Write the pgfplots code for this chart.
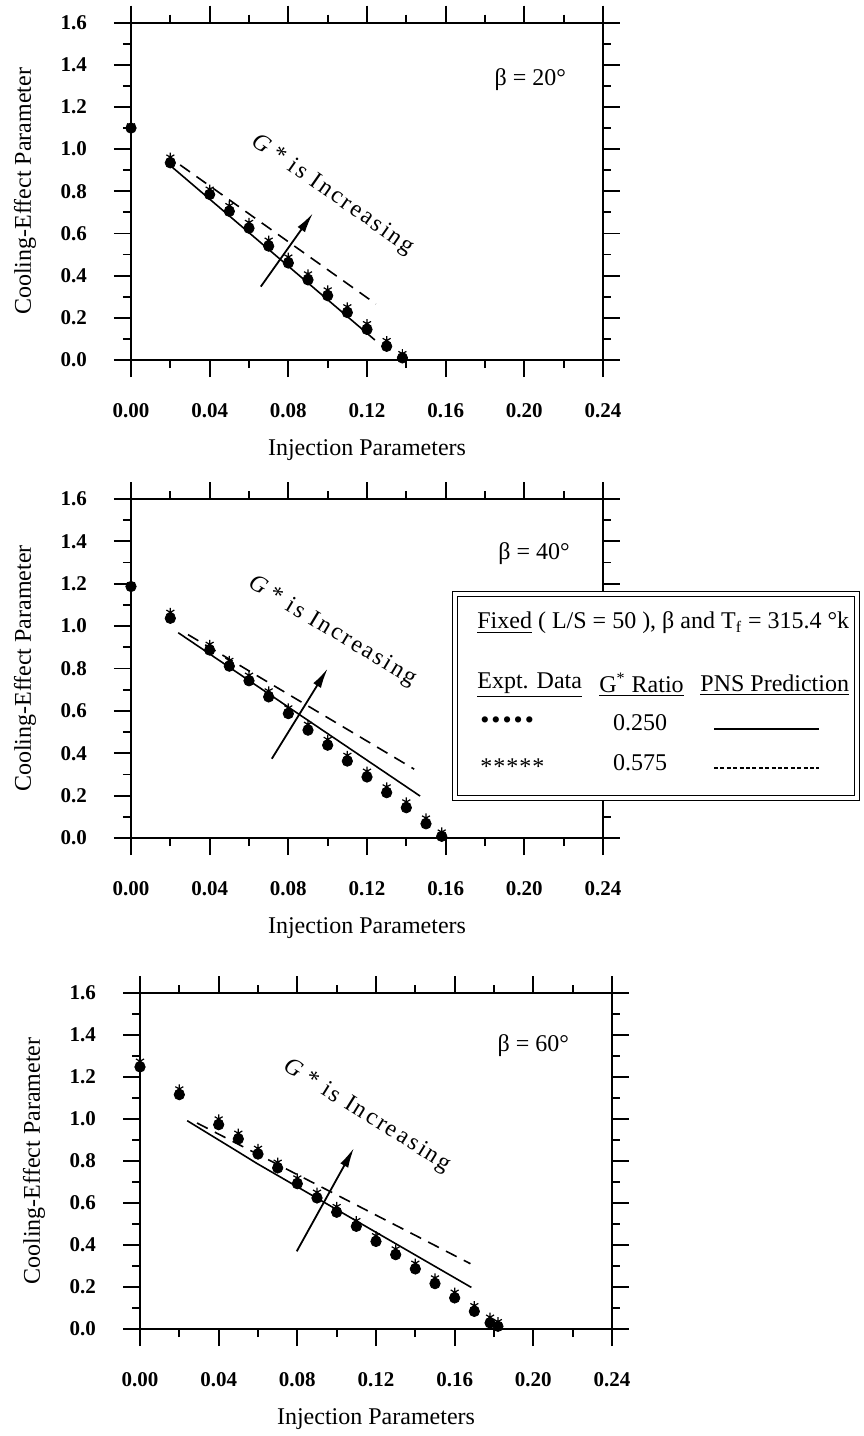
\documentclass[border=0pt]{standalone}
\usepackage{fontspec}
\setmainfont{Liberation Serif}
\usepackage{pgfplots}
\usepackage{pgfplotstable}
\pgfplotsset{compat=1.18}
\usetikzlibrary{arrows.meta}

% x, dots (G* = 0.250), stars (G* = 0.575)
\pgfplotstableread{
x dot star
0     1.100 1.110
0.020 0.935 0.962
0.040 0.785 0.810
0.050 0.705 0.732
0.060 0.625 0.652
0.070 0.540 0.568
0.080 0.460 0.488
0.090 0.380 0.408
0.100 0.305 0.332
0.110 0.225 0.252
0.120 0.145 0.172
0.130 0.065 0.092
0.138 0.010 0.030
}\dataA
\pgfplotstableread{
x dot star
0     1.187 1.195
0.020 1.037 1.065
0.040 0.887 0.914
0.050 0.811 0.838
0.060 0.742 0.768
0.070 0.666 0.694
0.080 0.587 0.614
0.090 0.509 0.536
0.100 0.438 0.465
0.110 0.363 0.390
0.120 0.288 0.315
0.130 0.214 0.241
0.140 0.143 0.170
0.150 0.067 0.094
0.158 0.008 0.028
}\dataB
\pgfplotstableread{
x dot star
0     1.248 1.275
0.020 1.116 1.143
0.040 0.973 1.000
0.050 0.905 0.932
0.060 0.833 0.860
0.070 0.767 0.794
0.080 0.692 0.719
0.090 0.624 0.651
0.100 0.556 0.583
0.110 0.489 0.516
0.120 0.417 0.444
0.130 0.354 0.381
0.140 0.286 0.313
0.150 0.216 0.243
0.160 0.148 0.175
0.170 0.084 0.111
0.178 0.029 0.056
0.182 0.013 0.035
}\dataC

\pgfplotsset{
  panel/.style={
    scale only axis,
    width=236pt,
    xmin=0, xmax=0.24, ymin=0, ymax=1.6,
    xtick={0,0.04,0.08,0.12,0.16,0.20,0.24},
    ytick={0,0.2,0.4,0.6,0.8,1.0,1.2,1.4,1.6},
    minor x tick num=1, minor y tick num=1,
    tick align=outside,
    major tick length=8.5pt, minor tick length=4pt,
    every tick/.style={black, line width=0.9pt},
    axis line style={line width=1pt},
    /pgf/number format/assume math mode=true,
    xticklabel style={font=\fontsize{10.5}{12}\selectfont\bfseries, yshift=-9.5pt,
      /pgf/number format/.cd, fixed, fixed zerofill, precision=2},
    yticklabel style={font=\fontsize{10.5}{12}\selectfont\bfseries, xshift=-10pt,
      /pgf/number format/.cd, fixed, fixed zerofill, precision=1},
    xlabel={Injection Parameters},
    ylabel={Cooling-Effect Parameter},
    label style={font=\fontsize{12}{14}\selectfont},
    xlabel style={at={(axis description cs:0.5,0)}, anchor=center, yshift=-45pt},
    ylabel style={at={(axis description cs:-0.2246,0.5)}, anchor=center},
    clip=false,
  },
  dots/.style={only marks, mark=*, mark size=2.6pt, black},
  stars/.style={only marks, mark=asterisk, mark size=2.3pt, black, mark options={line width=0.6pt}},
  pns/.style={black, line width=0.8pt},
  pnsd/.style={black, line width=0.8pt, dash pattern=on 6pt off 4pt},
  garrow/.style={black, line width=0.9pt, -{Latex[length=10pt,width=4.5pt]}},
}
\newcommand{\gtext}{{\addfontfeatures{LetterSpace=10}\textit{G}\,* is Increasing}}

\begin{document}
\begin{tikzpicture}
\useasboundingbox (0,0) rectangle (431.5pt,-718pt);

% beta = 20
\begin{axis}[panel, height=168.7pt, at={(65.5pt,-180pt)}, anchor=south west]
\addplot[pns] coordinates {(0.020,0.922) (0.124,0.095)};
\addplot[pnsd] coordinates {(0.025,0.925) (0.1245,0.266)};
\addplot[dots] table[x=x,y=dot] {\dataA};
\addplot[stars] table[x=x,y=star] {\dataA};
\addplot[garrow] coordinates {(0.066,0.348) (0.0925,0.696)};
\node[rotate=-35, font=\fontsize{12}{14}\selectfont] at (axis cs:0.1026,0.783) {\gtext};
\node[font=\fontsize{12}{14}\selectfont] at (axis cs:0.203,1.33) {β = 20°};
\end{axis}

% beta = 40
\begin{axis}[panel, height=169.5pt, at={(65.5pt,-419pt)}, anchor=south west]
\addplot[pns] coordinates {(0.024,0.969) (0.147,0.198)};
\addplot[pnsd] coordinates {(0.029,0.960) (0.144,0.325)};
\addplot[dots] table[x=x,y=dot] {\dataB};
\addplot[stars] table[x=x,y=star] {\dataB};
\addplot[garrow] coordinates {(0.0716,0.374) (0.100,0.800)};
\node[rotate=-31, font=\fontsize{12}{14}\selectfont] at (axis cs:0.1024,0.974) {\gtext};
\node[font=\fontsize{12}{14}\selectfont] at (axis cs:0.205,1.34) {β = 40°};
\end{axis}

% beta = 60
\begin{axis}[panel, height=168pt, at={(70pt,-664.5pt)}, anchor=south west]
\addplot[pns] coordinates {(0.024,0.992) (0.0495,0.846) (0.0597,0.787) (0.1685,0.198)};
\addplot[pnsd] coordinates {(0.029,0.981) (0.168,0.311)};
\addplot[dots] table[x=x,y=dot] {\dataC};
\addplot[stars] table[x=x,y=star] {\dataC};
\addplot[garrow] coordinates {(0.0797,0.370) (0.1088,0.862)};
\node[rotate=-32, font=\fontsize{12}{14}\selectfont] at (axis cs:0.1156,1.013) {\gtext};
\node[font=\fontsize{12}{14}\selectfont] at (axis cs:0.200,1.35) {β = 60°};
\end{axis}

% legend box
\draw[line width=0.6pt, double, double distance=1.6pt, fill=white]
  (227.5pt,-297pt) rectangle (428.5pt,-399pt);
\begin{scope}[every node/.style={font=\fontsize{12}{14}\selectfont, inner sep=0pt}]
\node[anchor=west] at (238.5pt,-311.5pt)
  {\underline{Fixed} ( L/S = 50 ), β and T\textsubscript{f} = 315.4 °k};
\node[anchor=west] at (238.5pt,-342.5pt) {\underline{Expt. Data}};
\node[anchor=west] at (299.5pt,-342.5pt) {\underline{G\textsuperscript{*} Ratio}};
\node[anchor=west] at (350pt,-342.5pt) {\underline{PNS Prediction}};
\node[anchor=west, font=\fontsize{13}{14}\selectfont] at (240pt,-361.5pt)
  {•\kern1pt•\kern1pt•\kern1pt•\kern1pt•};
\node at (320pt,-361.5pt) {0.250};
\node[anchor=west] at (240pt,-383.5pt) {*\kern0.5pt*\kern0.5pt*\kern0.5pt*\kern0.5pt*};
\node at (320pt,-381.5pt) {0.575};
\end{scope}
\draw[line width=0.7pt] (357pt,-364.5pt) -- (409.5pt,-364.5pt);
\draw[line width=0.6pt, dash pattern=on 2pt off 1.2pt] (357pt,-384pt) -- (409.5pt,-384pt);
\end{tikzpicture}
\end{document}
